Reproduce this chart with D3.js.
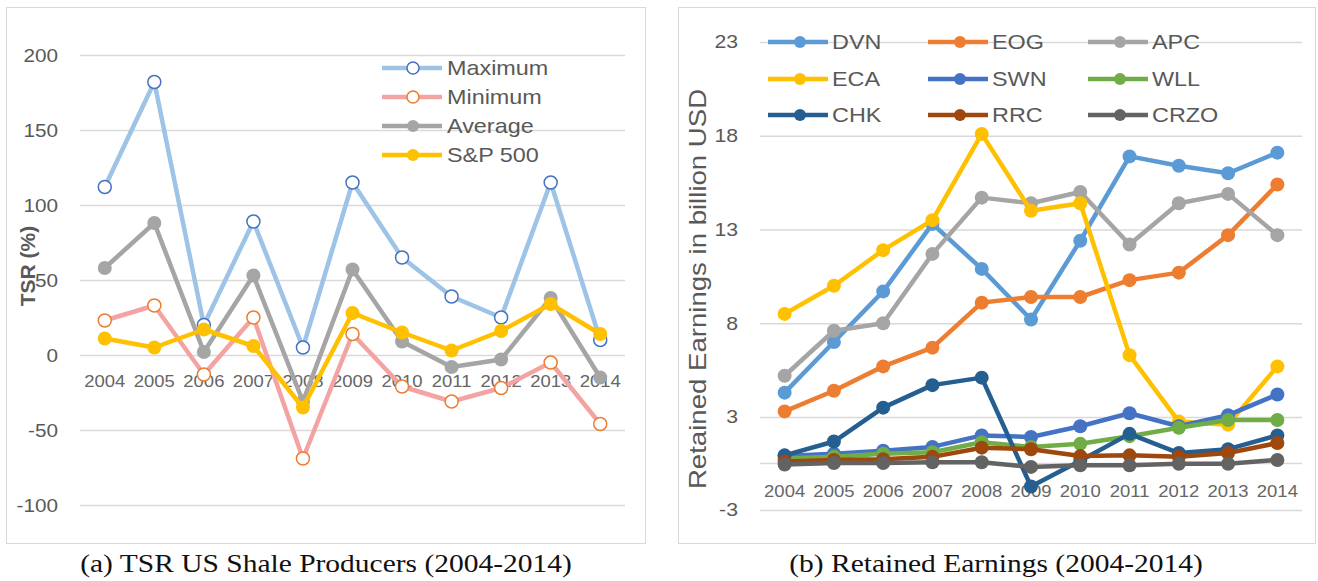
<!DOCTYPE html>
<html><head><meta charset="utf-8">
<script src="https://cdn.jsdelivr.net/npm/d3@7"></script>
<style>body{margin:0;background:#fff}svg{display:block}</style>
</head><body>
<svg id="c" width="1318" height="581"></svg>
<script>
const years = ["2004","2005","2006","2007","2008","2009","2010","2011","2012","2013","2014"];

// Left chart (TSR %)
const tsrTicks = [-100,-50,0,50,100,150,200];
const tsrMax = [112,182,20,89,5,115,65,39,25,115,10];
const tsrMin = [23,33,-13,25,-69,14,-21,-31,-22,-5,-46];
const tsrAvg = [58,88,2,53,-31,57,9,-8,-3,38,-15];
const tsrSP  = [11,5,17,6,-35,28,15,3,16,34,14];
const leftSeriesNames = ["Maximum","Minimum","Average","S&P 500"];

// Right chart (Retained earnings, billion USD)
const reTicks = [23,18,13,8,3,-3];
const reZero = 0;
const companies = ["DVN","EOG","APC","ECA","SWN","WLL","CHK","RRC","CRZO"];
const DVN  = [4.3,7.0,9.7,13.3,10.9,8.2,12.4,16.9,16.4,16.0,17.1];
const EOG  = [3.3,4.4,5.7,6.7,9.1,9.4,9.4,10.3,10.7,12.7,15.4];
const APC  = [5.2,7.6,8.0,11.7,14.7,14.4,15.0,12.2,14.4,14.9,12.7];
const ECA  = [8.5,10.0,11.9,13.5,18.1,14.0,14.4,6.3,2.7,2.5,5.7];
const SWN  = [0.45,0.6,0.8,1.05,1.8,1.7,2.4,3.2,2.4,3.1,4.2];
const WLL  = [0.3,0.4,0.6,0.7,1.35,1.05,1.25,1.75,2.3,2.8,2.8];
const CHK  = [0.5,1.4,3.5,4.7,5.1,-1.5,0.15,1.9,0.65,0.9,1.8];
const RRC  = [0.1,0.2,0.25,0.4,1.0,0.9,0.45,0.5,0.4,0.65,1.3];
const CRZO = [-0.1,0.0,0.0,0.05,0.05,-0.25,-0.15,-0.15,-0.05,-0.05,0.2];

const svg = d3.select("#c");
const gridCol = "#D9D9D9", txtCol = "#595959";
const sans = "'Liberation Sans', Arial, sans-serif";
const serif = "'Liberation Serif', 'Times New Roman', serif";

function stretch(sel, k){
  sel.each(function(){
    const t = d3.select(this);
    const x = +t.attr("x"), y = +t.attr("y");
    t.attr("x",0).attr("y",0).attr("transform",`translate(${x},${y}) scale(${k},1)`);
  });
}

// ---------- panel borders ----------
svg.append("rect").attr("x",6.5).attr("y",7.5).attr("width",639).attr("height",536)
  .attr("fill","#fff").attr("stroke",gridCol);
svg.append("rect").attr("x",678.5).attr("y",7.5).attr("width",637).attr("height",536)
  .attr("fill","#fff").attr("stroke",gridCol);

// ---------- LEFT ----------
const xL = d3.scalePoint().domain(years).range([80,625]).padding(0.5);
const yL = d3.scaleLinear().domain([-100,200]).range([505,55]);
const gL = svg.append("g");
gL.selectAll("line.grid").data(tsrTicks).join("line")
  .attr("x1",80).attr("x2",625).attr("y1",d=>yL(d)+0.5).attr("y2",d=>yL(d)+0.5)
  .attr("stroke",gridCol).attr("stroke-width",1.3);
gL.selectAll("text.yt").data(tsrTicks).join("text")
  .attr("x",58).attr("y",d=>yL(d)).attr("dy","0.36em").attr("text-anchor","end")
  .attr("font-family",sans).attr("font-size",18.5).attr("fill",txtCol).text(d=>d)
  .call(stretch,1.12);
gL.append("text").attr("transform","translate(35,266) rotate(-90)")
  .attr("text-anchor","middle").attr("font-family",sans).attr("font-size",21)
  .attr("font-weight","bold").attr("fill",txtCol).text("TSR (%)");
gL.selectAll("text.xt").data(years).join("text")
  .attr("x",d=>xL(d)).attr("y",yL(0)+32).attr("text-anchor","middle")
  .attr("font-family",sans).attr("font-size",16.5).attr("fill","#666").text(d=>d)
  .call(stretch,1.12);

const leftSeries = [
  {name:leftSeriesNames[0], data:tsrMax, line:"#9DC3E6", mk:"#4472C4", hollow:true},
  {name:leftSeriesNames[1], data:tsrMin, line:"#F4A3A3", mk:"#ED7D31", hollow:true},
  {name:leftSeriesNames[2], data:tsrAvg, line:"#A5A5A5", mk:"#A5A5A5", hollow:false},
  {name:leftSeriesNames[3], data:tsrSP,  line:"#FFC000", mk:"#FFC000", hollow:false}
];
const lineL = d3.line().x((d,i)=>xL(years[i])).y(d=>yL(d));
leftSeries.forEach(s=>{
  gL.append("path").attr("d",lineL(s.data)).attr("fill","none")
    .attr("stroke",s.line).attr("stroke-width",4.5).attr("stroke-linejoin","round");
  gL.selectAll(null).data(s.data).join("circle")
    .attr("cx",(d,i)=>xL(years[i])).attr("cy",d=>yL(d))
    .attr("r",s.hollow?6.5:7)
    .attr("fill",s.hollow?"#fff":s.mk).attr("stroke",s.mk).attr("stroke-width",s.hollow?1.5:0);
});
// legend left
leftSeries.forEach((s,i)=>{
  const yy = 68 + i*29;
  const g = gL.append("g");
  g.append("line").attr("x1",382).attr("x2",442).attr("y1",yy).attr("y2",yy)
    .attr("stroke",s.line).attr("stroke-width",4.5);
  g.append("circle").attr("cx",413).attr("cy",yy).attr("r",6)
    .attr("fill",s.hollow?"#fff":s.mk).attr("stroke",s.mk).attr("stroke-width",s.hollow?1.5:0);
  g.append("text").attr("x",447).attr("y",yy).attr("dy","0.36em")
    .attr("font-family",sans).attr("font-size",20).attr("fill",txtCol).text(s.name)
    .call(stretch,1.17);
});

// ---------- RIGHT ----------
const xR = d3.scalePoint().domain(years).range([760,1302]).padding(0.5);
const yR = d3.scaleLinear().domain([-3,0,3,23]).range([510,463,417,42]);
const gR = svg.append("g");
gR.selectAll("line.grid").data(reTicks.concat([reZero])).join("line")
  .attr("x1",760).attr("x2",1302).attr("y1",d=>yR(d)+0.5).attr("y2",d=>yR(d)+0.5)
  .attr("stroke",gridCol).attr("stroke-width",1.3);
gR.selectAll("text.yt").data(reTicks).join("text")
  .attr("x",738).attr("y",d=>yR(d)).attr("dy","0.36em").attr("text-anchor","end")
  .attr("font-family",sans).attr("font-size",18).attr("fill",txtCol).text(d=>d)
  .call(stretch,1.18);
gR.append("text").attr("transform","translate(706,289) rotate(-90) scale(1.2,1)")
  .attr("text-anchor","middle").attr("font-family",sans).attr("font-size",23)
  .attr("fill",txtCol).text("Retained Earnings in billion USD");
gR.selectAll("text.xt").data(years).join("text")
  .attr("x",d=>xR(d)).attr("y",497).attr("text-anchor","middle")
  .attr("font-family",sans).attr("font-size",16.5).attr("fill","#666").text(d=>d)
  .call(stretch,1.12);

const rightData = [DVN,EOG,APC,ECA,SWN,WLL,CHK,RRC,CRZO];
const rightCols = ["#5B9BD5","#ED7D31","#A5A5A5","#FFC000","#4472C4","#70AD47","#255E91","#9E480E","#636363"];
const lineR = d3.line().x((d,i)=>xR(years[i])).y(d=>yR(d));
companies.forEach((c,k)=>{
  gR.append("path").attr("d",lineR(rightData[k])).attr("fill","none")
    .attr("stroke",rightCols[k]).attr("stroke-width",4.5).attr("stroke-linejoin","round");
  gR.selectAll(null).data(rightData[k]).join("circle")
    .attr("cx",(d,i)=>xR(years[i])).attr("cy",d=>yR(d)).attr("r",7)
    .attr("fill",rightCols[k]);
});
// legend right
const legX = [768,928,1088], legY = [42,79,115];
companies.forEach((c,k)=>{
  const lx = legX[k%3], ly = legY[Math.floor(k/3)];
  const g = gR.append("g");
  g.append("line").attr("x1",lx).attr("x2",lx+60).attr("y1",ly).attr("y2",ly)
    .attr("stroke",rightCols[k]).attr("stroke-width",4.5);
  g.append("circle").attr("cx",lx+32).attr("cy",ly).attr("r",6).attr("fill",rightCols[k]);
  g.append("text").attr("x",lx+64).attr("y",ly).attr("dy","0.36em")
    .attr("font-family",sans).attr("font-size",20).attr("fill",txtCol).text(c)
    .call(stretch,1.17);
});

// ---------- captions ----------
svg.append("text").attr("x",326).attr("y",572).attr("text-anchor","middle")
  .attr("font-family",serif).attr("font-size",25).attr("fill","#111")
  .text("(a) TSR US Shale Producers (2004-2014)").call(stretch,1.18);
svg.append("text").attr("x",996).attr("y",572).attr("text-anchor","middle")
  .attr("font-family",serif).attr("font-size",25).attr("fill","#111")
  .text("(b) Retained Earnings (2004-2014)").call(stretch,1.18);
</script>
</body></html>
